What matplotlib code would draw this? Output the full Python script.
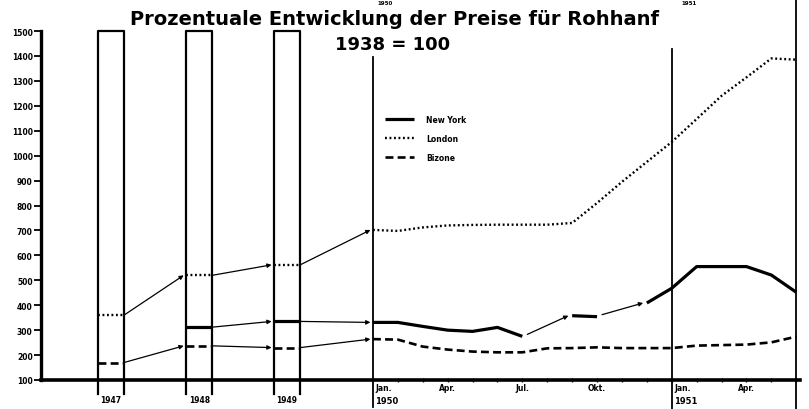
import numpy as np
import matplotlib
matplotlib.use("Agg")
import matplotlib.pyplot as plt

# yearly averages (drawn inside the boxes)
YEARS = ["1947", "1948", "1949"]
ny_years = [np.nan, 312, 335]
london_years = [360, 520, 562]
bizone_years = [170, 237, 230]

# monthly values Jan 1950 .. Jun 1951 (1938 = 100)
ny_months = [331, 331, 315, 300, 295, 311, 275, np.nan, 358, 354, np.nan, 409,
             468, 555, 555, 555, 521, 452]
london_months = [702, 698, 712, 720, 722, 723, 723, 723, 730, 810, 895, 975,
                 1055, 1147, 1240, 1314, 1390, 1385]
bizone_months = [264, 262, 234, 222, 214, 211, 211, 227, 228, 231, 228, 228,
                 228, 238, 240, 242, 251, 274]

MONTH_TICKS = [0, 3, 6, 9, 12, 15]
MONTH_LABELS = ["Jan.", "Apr.", "Jul.", "Okt.", "Jan.", "Apr."]
YTICKS = list(range(100, 1600, 100))

# layout: x unit = one month, Jan 1950 = 0
YEAR_X0 = [-11.05, -7.5, -3.97]
BOX_W = 1.05

styles = {
    "New York": dict(color="black", lw=2.3, ls="-", solid_capstyle="butt"),
    "London": dict(color="black", lw=1.7, ls=(0, (0.8, 1.1))),
    "Bizone": dict(color="black", lw=1.9, ls=(0, (3, 1.6))),
}

fig = plt.figure(figsize=(8.09, 4.10), dpi=100)
ax = fig.add_axes([41 / 809, 29 / 410, 759 / 809, 349 / 410])
ax.set_xlim(-13.33, 17.15)
ax.set_ylim(100, 1500)

# year boxes
for x0 in YEAR_X0:
    ax.plot([x0, x0, x0 + BOX_W, x0 + BOX_W], [44, 1500, 1500, 44],
            color="black", lw=1.6, clip_on=False, zorder=2)

# vertical separators
ax.plot([0, 0], [-8, 1395], color="black", lw=1.3, clip_on=False)
ax.plot([12, 12], [-16, 1428], color="black", lw=1.3, clip_on=False)
ax.plot([17, 17], [-16, 1640], color="black", lw=1.3, clip_on=False)

months = np.arange(len(ny_months))
series = [("New York", ny_years, ny_months),
          ("London", london_years, london_months),
          ("Bizone", bizone_years, bizone_months)]

arrow = dict(arrowstyle="-|>", lw=0.9, color="black", shrinkA=0, shrinkB=0,
             mutation_scale=6)

for name, yv, mv in series:
    st = styles[name]
    # yearly segments
    for x0, v in zip(YEAR_X0, yv):
        if not np.isnan(v):
            ax.plot([x0, x0 + BOX_W], [v, v], zorder=3, **st)
    # connectors between years and into Jan 1950
    starts = [(x0 + BOX_W, v) for x0, v in zip(YEAR_X0, yv)]
    ends = [(x0, v) for x0, v in zip(YEAR_X0[1:], yv[1:])] + [(0, mv[0])]
    for (xa, va), (xb, vb) in zip(starts, ends):
        if not (np.isnan(va) or np.isnan(vb)):
            ax.annotate("", xy=(xb - 0.1, vb), xytext=(xa, va), arrowprops=arrow)
    # monthly line
    ax.plot(months, mv, zorder=3, label=name, **st)
    # thin connectors over missing months
    arr = np.array(mv, dtype=float)
    valid = np.where(~np.isnan(arr))[0]
    for a, b in zip(valid[:-1], valid[1:]):
        if b - a > 1:
            ax.annotate("", xy=(b - 0.15, arr[b]), xytext=(a + 0.2, arr[a] + 8),
                        arrowprops=arrow)

# axes styling
for s in ["top", "right"]:
    ax.spines[s].set_visible(False)
ax.spines["left"].set_linewidth(2.4)
ax.spines["bottom"].set_linewidth(2.6)
ax.set_yticks(YTICKS)
ax.set_yticklabels([str(v) for v in YTICKS], fontsize=5.5, fontweight="bold")
ax.tick_params(axis="y", length=5, width=1.3, pad=1)
ax.set_xticks(list(range(1, 18)), minor=True)
ax.set_xticks([])
ax.tick_params(axis="x", which="minor", length=3, width=1.0, direction="inout")

tr = ax.get_xaxis_transform()
for x0, yr in zip(YEAR_X0, YEARS):
    ax.text(x0 + BOX_W / 2, -0.057, yr, transform=tr, ha="center", va="center",
            fontsize=5.5, fontweight="bold")
for m, lab in zip(MONTH_TICKS, MONTH_LABELS):
    if m % 12 == 0:
        ax.text(m + 0.1, -0.008, lab, transform=tr, ha="left", va="top",
                fontsize=5.5, fontweight="bold")
        ax.text(m + 0.1, -0.047, str(1950 + m // 12), transform=tr, ha="left",
                va="top", fontsize=6, fontweight="bold")
    else:
        ax.text(m, -0.008, lab, transform=tr, ha="center", va="top",
                fontsize=5.5, fontweight="bold")

leg = ax.legend(loc="upper left", bbox_to_anchor=(0.453, 0.759), frameon=False,
                handlelength=3.8, handletextpad=1.6,
                labelspacing=1.3, borderpad=0, borderaxespad=0,
                prop=dict(size=5.5, weight="bold"))

fig.text(0.488, 0.952, "Prozentuale Entwicklung der Preise für Rohhanf",
         ha="center", va="center", fontsize=14, fontweight="bold")
fig.text(0.485, 0.89, "1938 = 100", ha="center", va="center",
         fontsize=13, fontweight="bold")

# small labels left over from the chart above on the page
fig.text(377 / 809, 0.998, "1950", ha="left", va="top", fontsize=4, fontweight="bold")
fig.text(681 / 809, 0.998, "1951", ha="left", va="top", fontsize=4, fontweight="bold")

fig.savefig("out.png", dpi=100)
